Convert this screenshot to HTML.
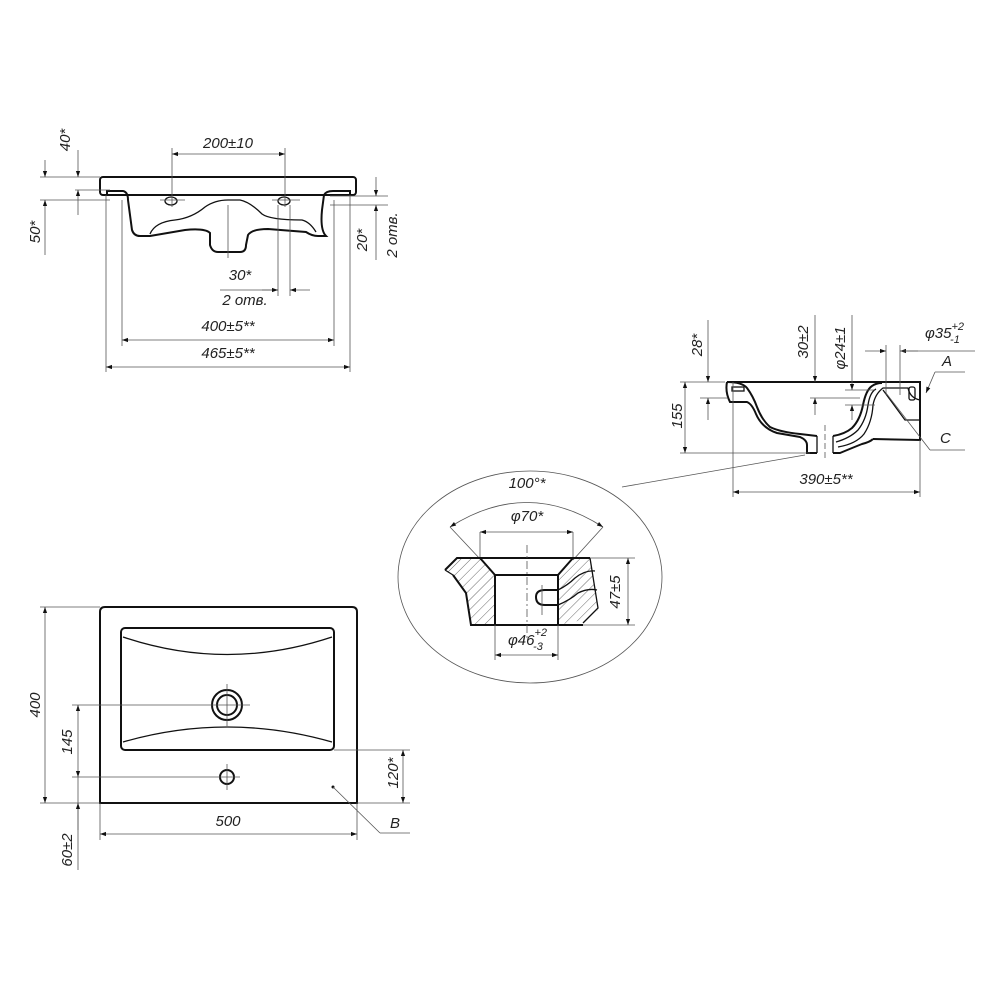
<!DOCTYPE html>
<html><head><meta charset="utf-8"><style>
html,body{margin:0;padding:0;background:#fff;}
svg{display:block;}
text{font-family:"Liberation Sans",sans-serif;font-style:italic;font-size:15px;fill:#222;}
.t{stroke:#555;stroke-width:0.8;fill:none;}
.k{stroke:#111;stroke-width:2;fill:none;}
.m{stroke:#111;stroke-width:1.3;fill:none;}
</style></head><body>
<svg width="1000" height="1000" viewBox="0 0 1000 1000" xmlns="http://www.w3.org/2000/svg">
<defs>
<marker id="a" viewBox="0 0 10 10" refX="10" refY="5" markerWidth="12" markerHeight="6" orient="auto-start-reverse" markerUnits="userSpaceOnUse"><path d="M0,1.5 L10,5 L0,8.5z" fill="#111"/></marker>
<pattern id="h" patternUnits="userSpaceOnUse" width="7" height="7" patternTransform="rotate(45)"><line x1="0" y1="0" x2="0" y2="7" stroke="#444" stroke-width="0.8"/></pattern>
</defs>

<!-- TOP FRONT VIEW -->
<rect x="100" y="177" width="256" height="18" rx="3" class="k"/>
<path class="k" d="M107,195 L107,191 L123,191 Q128,192 128,200 L132,230 Q134,236 140,236 L150,236 L185,230 Q205,228 210,233 L210,245 Q212,252 218,252 L240,252 Q246,252 246,245 L248,235 Q252,229 268,229 L306,232 Q312,236 318,236 L326,236 Q320,230 322,210 L324,195 Q326,191 333,191 L350,191 L350,195"/>
<path class="m" d="M150,234 Q155,222 175,220 Q192,218 205,207 Q215,200 228,200 L240,200 Q250,202 262,214 Q270,220 302,220 Q310,222 316,232"/>
<ellipse cx="171" cy="201" rx="6" ry="4" class="m"/>
<ellipse cx="284" cy="201" rx="6" ry="4" class="m"/>
<line class="t" x1="228" y1="205" x2="228" y2="258"/>
<line class="t" x1="172" y1="148" x2="172" y2="207"/><line class="t" x1="285" y1="148" x2="285" y2="207"/>
<line class="t" x1="172" y1="154" x2="285" y2="154" marker-start="url(#a)" marker-end="url(#a)"/>
<text x="228" y="148" text-anchor="middle">200±10</text>
<line class="t" x1="160" y1="200" x2="185" y2="200"/><line class="t" x1="272" y1="200" x2="300" y2="200"/>
<line class="t" x1="40" y1="177" x2="100" y2="177"/>
<line class="t" x1="40" y1="200" x2="110" y2="200"/>
<line class="t" x1="75" y1="190" x2="110" y2="190"/>
<line class="t" x1="78" y1="150" x2="78" y2="177" marker-end="url(#a)"/>
<line class="t" x1="78" y1="215" x2="78" y2="190" marker-end="url(#a)"/>
<line class="t" x1="45" y1="160" x2="45" y2="177" marker-end="url(#a)"/>
<line class="t" x1="45" y1="255" x2="45" y2="200" marker-end="url(#a)"/>
<text transform="translate(70,140) rotate(-90)" text-anchor="middle">40*</text>
<text transform="translate(40,232) rotate(-90)" text-anchor="middle">50*</text>
<line class="t" x1="330" y1="196" x2="388" y2="196"/><line class="t" x1="330" y1="205" x2="388" y2="205"/>
<line class="t" x1="376" y1="177" x2="376" y2="196" marker-end="url(#a)"/>
<line class="t" x1="376" y1="260" x2="376" y2="205" marker-end="url(#a)"/>
<text transform="translate(367,240) rotate(-90)" text-anchor="middle">20*</text>
<text transform="translate(397,235) rotate(-90)" text-anchor="middle">2 отв.</text>
<line class="t" x1="278" y1="205" x2="278" y2="296"/><line class="t" x1="290" y1="205" x2="290" y2="296"/>
<line class="t" x1="220" y1="290" x2="278" y2="290"/>
<line class="t" x1="262" y1="290" x2="278" y2="290" marker-end="url(#a)"/>
<line class="t" x1="310" y1="290" x2="290" y2="290" marker-end="url(#a)"/>
<text x="240" y="280" text-anchor="middle">30*</text>
<text x="245" y="305" text-anchor="middle">2 отв.</text>
<line class="t" x1="122" y1="200" x2="122" y2="346"/><line class="t" x1="334" y1="200" x2="334" y2="346"/>
<line class="t" x1="122" y1="340" x2="334" y2="340" marker-start="url(#a)" marker-end="url(#a)"/>
<text x="228" y="331" text-anchor="middle">400±5**</text>
<line class="t" x1="106" y1="195" x2="106" y2="372"/><line class="t" x1="350" y1="195" x2="350" y2="372"/>
<line class="t" x1="106" y1="367" x2="350" y2="367" marker-start="url(#a)" marker-end="url(#a)"/>
<text x="228" y="358" text-anchor="middle">465±5**</text>

<!-- SIDE SECTION -->
<path class="k" d="M727,382 L920,382 L920,440 L873,439"/>
<path class="k" d="M727,382 Q725,392 730,402 L747,402 Q752,404 756,414 Q762,428 777,433 L800,437 Q807,440 807,445 L807,453 L817,453"/>
<path class="k" d="M727,382 Q742,382 747,388 Q753,396 757,407 Q762,420 770,427 Q780,432 800,434 L817,436"/>
<path class="m" d="M817,436 L817,453 M833,436 L833,453"/>
<path class="k" d="M833,453 L840,453 Q852,448 862,444 Q870,442 873,439"/>
<path class="k" d="M833,436 Q845,434 852,428 Q860,420 863,405 Q866,390 872,386 Q876,383 882,383"/>
<path class="m" d="M836,442 Q850,438 858,430 Q866,420 868,405 Q870,392 876,389"/>
<path class="m" d="M838,447 Q856,444 864,434 Q872,422 873,405 Q875,394 883,388 L908,388 Q910,398 920,400"/>
<path class="m" d="M883,390 L905,420 L920,420"/>
<rect x="732" y="387" width="12" height="4" class="m"/>
<rect x="909" y="387" width="6" height="13" rx="2" class="m"/>
<line class="t" x1="825" y1="425" x2="825" y2="460" stroke-dasharray="6,3"/>
<line class="t" x1="680" y1="382" x2="725" y2="382"/>
<line class="t" x1="700" y1="398" x2="728" y2="398"/>
<line class="t" x1="708" y1="320" x2="708" y2="382" marker-end="url(#a)"/>
<line class="t" x1="708" y1="420" x2="708" y2="398" marker-end="url(#a)"/>
<text transform="translate(702,345) rotate(-90)" text-anchor="middle">28*</text>
<line class="t" x1="685" y1="382" x2="685" y2="453" marker-start="url(#a)" marker-end="url(#a)"/>
<line class="t" x1="680" y1="453" x2="810" y2="453"/>
<text transform="translate(682,416) rotate(-90)" text-anchor="middle">155</text>
<line class="t" x1="815" y1="315" x2="815" y2="382" marker-end="url(#a)"/>
<line class="t" x1="815" y1="415" x2="815" y2="398" marker-end="url(#a)"/>
<line class="t" x1="810" y1="398" x2="860" y2="398"/>
<text transform="translate(808,342) rotate(-90)" text-anchor="middle">30±2</text>
<line class="t" x1="852" y1="315" x2="852" y2="390" marker-end="url(#a)"/>
<line class="t" x1="852" y1="420" x2="852" y2="405" marker-end="url(#a)"/>
<line class="t" x1="845" y1="390" x2="875" y2="390"/><line class="t" x1="845" y1="405" x2="875" y2="405"/>
<text transform="translate(845,348) rotate(-90)" text-anchor="middle">φ24±1</text>
<line class="t" x1="886" y1="345" x2="886" y2="395"/><line class="t" x1="900" y1="345" x2="900" y2="395"/>
<line class="t" x1="865" y1="351" x2="886" y2="351" marker-end="url(#a)"/>
<line class="t" x1="918" y1="351" x2="900" y2="351" marker-end="url(#a)"/>
<line class="t" x1="900" y1="351" x2="975" y2="351"/>
<text x="925" y="338">φ35<tspan font-size="11" dy="-8">+2</tspan><tspan font-size="11" dx="-14" dy="13">-1</tspan></text>
<text x="942" y="366">A</text>
<line class="t" x1="935" y1="372" x2="965" y2="372"/>
<line class="t" x1="935" y1="372" x2="926" y2="393" marker-end="url(#a)"/>
<line class="t" x1="886" y1="393" x2="930" y2="450"/><line class="t" x1="930" y1="450" x2="965" y2="450"/>
<text x="940" y="443">C</text>
<line class="t" x1="733" y1="382" x2="733" y2="497"/><line class="t" x1="920" y1="440" x2="920" y2="497"/>
<line class="t" x1="733" y1="492" x2="920" y2="492" marker-start="url(#a)" marker-end="url(#a)"/>
<text x="826" y="484" text-anchor="middle">390±5**</text>
<line class="t" x1="805" y1="455" x2="622" y2="487"/>

<!-- DETAIL -->
<ellipse cx="530" cy="577" rx="132" ry="106" class="t"/>
<text x="527" y="488" text-anchor="middle">100°*</text>
<path class="t" d="M450,527 Q527,478 603,527" marker-start="url(#a)" marker-end="url(#a)"/>
<line class="t" x1="450" y1="527" x2="481" y2="560"/><line class="t" x1="603" y1="527" x2="573" y2="560"/>
<text x="527" y="521" text-anchor="middle">φ70*</text>
<line class="t" x1="480" y1="532" x2="480" y2="558"/><line class="t" x1="573" y1="532" x2="573" y2="558"/>
<line class="t" x1="480" y1="532" x2="573" y2="532" marker-start="url(#a)" marker-end="url(#a)"/>
<path d="M445,570 L457,558 L480,558 L495,575 L495,625 L471,625 L466,593 L453,575 Z" fill="url(#h)" stroke="none"/>
<path d="M573,558 L590,558 L598,610 L583,620 L558,625 L558,575 Z" fill="url(#h)" stroke="none"/>
<path class="k" d="M445,570 L457,558 L590,558"/>
<path class="k" d="M480,558 L495,575 L558,575 L573,558"/>
<path class="k" d="M453,575 L466,593 L471,625 L583,625"/>
<path class="k" d="M495,575 L495,625 M558,575 L558,625"/>
<path class="m" d="M445,570 L453,575 M590,558 L598,608 L583,623"/>
<path class="k" d="M558,590 L545,590 Q536,590 536,597 Q536,605 545,605 L558,605"/>
<path class="m" d="M558,590 Q568,585 575,578 Q585,570 595,571 M558,605 Q570,600 578,593 Q588,588 597,590"/>
<line class="t" x1="527" y1="545" x2="527" y2="640" stroke-dasharray="8,3,2,3"/>
<line class="t" x1="542" y1="585" x2="542" y2="615"/>
<line class="t" x1="590" y1="558" x2="635" y2="558"/><line class="t" x1="583" y1="625" x2="635" y2="625"/>
<line class="t" x1="628" y1="558" x2="628" y2="625" marker-start="url(#a)" marker-end="url(#a)"/>
<text transform="translate(620,592) rotate(-90)" text-anchor="middle">47±5</text>
<line class="t" x1="495" y1="625" x2="495" y2="660"/><line class="t" x1="558" y1="625" x2="558" y2="660"/>
<line class="t" x1="495" y1="655" x2="558" y2="655" marker-start="url(#a)" marker-end="url(#a)"/>
<text x="508" y="645">φ46<tspan font-size="11" dy="-9">+2</tspan><tspan font-size="11" dx="-14" dy="14">-3</tspan></text>

<!-- PLAN VIEW -->
<path class="k" d="M100,803 L100,612 Q100,607 105,607 L352,607 Q357,607 357,612 L357,803 Z"/>
<rect x="121" y="628" width="213" height="122" rx="4" class="k"/>
<path class="m" d="M123,637 Q227,672 332,637"/>
<path class="m" d="M123,742 Q227,712 332,742"/>
<circle cx="227" cy="705" r="15" class="k"/><circle cx="227" cy="705" r="10" class="k"/>
<circle cx="227" cy="777" r="7" class="k"/>
<line class="t" x1="227" y1="684" x2="227" y2="726"/><line class="t" x1="227" y1="764" x2="227" y2="790"/>
<line class="t" x1="72" y1="705" x2="250" y2="705"/>
<line class="t" x1="72" y1="777" x2="240" y2="777"/>
<line class="t" x1="40" y1="607" x2="100" y2="607"/><line class="t" x1="40" y1="803" x2="100" y2="803"/>
<line class="t" x1="45" y1="607" x2="45" y2="803" marker-start="url(#a)" marker-end="url(#a)"/>
<text transform="translate(40,705) rotate(-90)" text-anchor="middle">400</text>
<line class="t" x1="78" y1="705" x2="78" y2="777" marker-start="url(#a)" marker-end="url(#a)"/>
<text transform="translate(72,742) rotate(-90)" text-anchor="middle">145</text>
<line class="t" x1="78" y1="777" x2="78" y2="870"/>
<line class="t" x1="78" y1="830" x2="78" y2="803" marker-end="url(#a)"/>
<text transform="translate(72,850) rotate(-90)" text-anchor="middle">60±2</text>
<line class="t" x1="334" y1="750" x2="410" y2="750"/><line class="t" x1="357" y1="803" x2="410" y2="803"/>
<line class="t" x1="403" y1="750" x2="403" y2="803" marker-start="url(#a)" marker-end="url(#a)"/>
<text transform="translate(398,773) rotate(-90)" text-anchor="middle">120*</text>
<line class="t" x1="100" y1="803" x2="100" y2="840"/><line class="t" x1="357" y1="803" x2="357" y2="840"/>
<line class="t" x1="100" y1="834" x2="357" y2="834" marker-start="url(#a)" marker-end="url(#a)"/>
<text x="228" y="826" text-anchor="middle">500</text>
<circle cx="333" cy="787" r="1.5" fill="#111"/>
<line class="t" x1="333" y1="787" x2="380" y2="833"/><line class="t" x1="380" y1="833" x2="410" y2="833"/>
<text x="390" y="828">B</text>
</svg>
</body></html>
